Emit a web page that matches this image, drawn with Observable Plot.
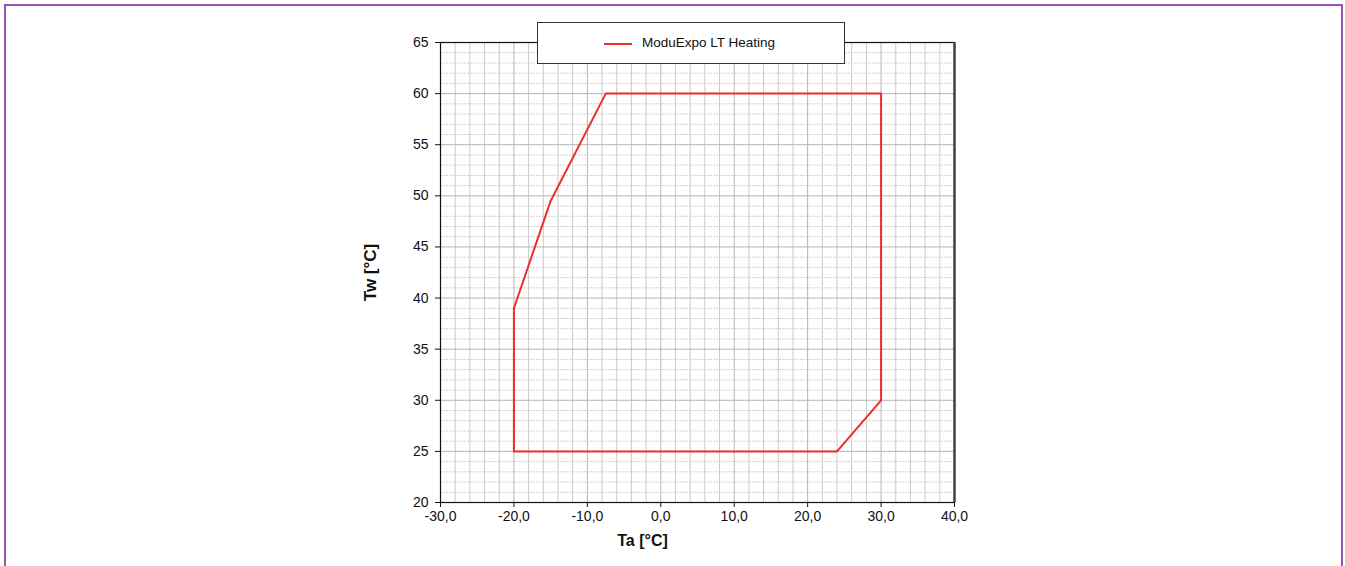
<!DOCTYPE html>
<html>
<head>
<meta charset="utf-8">
<script src="https://cdn.jsdelivr.net/npm/d3@7"></script>
<script src="https://cdn.jsdelivr.net/npm/@observablehq/plot@0.6"></script>
<style>
  html, body { margin: 0; padding: 0; background: #fff; }
  body { width: 1345px; height: 566px; overflow: hidden; position: relative; font-family: "Liberation Sans", Arial, sans-serif; }
  #border { position: absolute; left: 4px; top: 4px; width: 1335px; height: 600px; border: 2px solid #9457ad; border-bottom: none; pointer-events: none; }
  #chart { position: absolute; left: 0; top: 0; }
  #legend { position: absolute; left: 537px; top: 22px; width: 306px; height: 40px; border: 1px solid #333; background: #fff; }
  #legend .sw { position: absolute; left: 66px; top: 20px; width: 28px; height: 2px; background: #ee2d2d; }
  #legend .lbl { position: absolute; left: 104px; top: 12px; font-size: 13.5px; color: #111; }
</style>
</head>
<body>
<div id="chart"></div>
<div id="border"></div>
<div id="legend"><div class="sw"></div><div class="lbl" id="legendText"></div></div>
<script>
// Data
const seriesName = "ModuExpo LT Heating";
const ta = [-20, -20, -15, -7.5, 30, 30, 24, -20];
const tw = [25, 39, 49.5, 60, 60, 30, 25, 25];
const xTicks = [-30, -20, -10, 0, 10, 20, 30, 40];
const yTicks = [20, 25, 30, 35, 40, 45, 50, 55, 60, 65];
const xMinor = d3.range(-30, 40.001, 2);
const yMinor = d3.range(20, 65.001, 1);
const xLabel = "Ta [°C]";
const yLabel = "Tw [°C]";

const pts = ta.map((x, i) => ({x, y: tw[i]}));
document.getElementById("legendText").textContent = seriesName;

const fmt = d => d.toFixed(1).replace(".", ",");

const plot = Plot.plot({
  width: 1345,
  height: 566,
  marginLeft: 440,
  marginRight: 391,
  marginTop: 42,
  marginBottom: 64,
  style: {fontFamily: "'Liberation Sans', Arial, sans-serif", fontSize: "14px", color: "#111", background: "transparent"},
  x: {domain: [-30, 40]},
  y: {domain: [20, 65]},
  marks: [
    Plot.ruleY(yMinor.filter(v => v % 5 !== 0), {stroke: "#d0d0d0", strokeWidth: 1, strokeDasharray: "2,1"}),
    Plot.ruleX(xMinor.filter(v => v % 10 !== 0), {stroke: "#cacaca", strokeWidth: 1}),
    Plot.ruleY(yTicks, {stroke: "#b4b4b4", strokeWidth: 1}),
    Plot.ruleX(xTicks, {stroke: "#b4b4b4", strokeWidth: 1}),
    Plot.line(pts, {x: "x", y: "y", stroke: "#ee2d2d", strokeWidth: 2}),
    Plot.frame({stroke: "#111", strokeWidth: 1.2}),
    Plot.ruleX([40], {stroke: "#444", strokeWidth: 2.5}),
    Plot.axisX({ticks: xTicks, tickFormat: fmt, tickSize: 5, tickPadding: 4, label: null, stroke: "#111"}),
    Plot.axisY({ticks: yTicks, tickSize: 5, tickPadding: 7, label: null}),
    Plot.text([xLabel], {frameAnchor: "bottom", dy: 38, dx: -55, fontWeight: "bold", fontSize: 16, lineAnchor: "middle", textAnchor: "middle"}),
    Plot.text([yLabel], {frameAnchor: "left", dx: -70, rotate: -90, fontWeight: "bold", fontSize: 17, lineAnchor: "middle", textAnchor: "middle"})
  ]
});
document.getElementById("chart").appendChild(plot);
</script>
</body>
</html>
